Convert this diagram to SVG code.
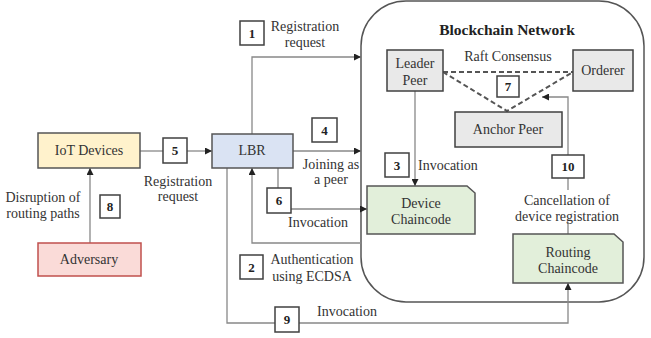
<svg xmlns="http://www.w3.org/2000/svg" width="651" height="338" viewBox="0 0 651 338">
<defs>
<marker id="ah" viewBox="0 0 10 10" refX="10" refY="5" markerWidth="7" markerHeight="7" markerUnits="userSpaceOnUse" orient="auto">
<path d="M0,0 L10,5 L0,10 z" fill="#222"/>
</marker>
<style>
text{font-family:"Liberation Serif","Times New Roman","DejaVu Serif",serif;font-size:14px;fill:#333;}
.c{text-anchor:middle;}
.b{font-weight:bold;}
.num{font-weight:bold;font-size:13px;text-anchor:middle;fill:#222;}
.nb{fill:#fff;stroke:#404040;stroke-width:1.5;}
.ln{fill:none;stroke:#888;stroke-width:1.3;}
.dash{fill:none;stroke:#555;stroke-width:2;stroke-dasharray:5,3;}
.peer{fill:#e9e9e9;stroke:#404040;stroke-width:1.5;}
.cc{fill:#e2efda;stroke:#555;stroke-width:1.5;}
</style>
</defs>
<rect width="651" height="338" fill="#fff"/>

<g id="blockchain">
<rect x="361" y="1" width="283" height="301" rx="45" ry="45" fill="#fff" stroke="#555" stroke-width="1.5"/>
<text class="c b" x="507" y="35" style="font-size:15.5px;fill:#222">Blockchain Network</text>
<text class="c" x="508" y="61">Raft Consensus</text>
</g>

<g id="connectors">
<path class="ln" d="M140,151 H163"/>
<path class="ln" d="M187,151 H212" marker-end="url(#ah)"/>
<path class="ln" d="M90,243 V168" marker-end="url(#ah)"/>
<path class="ln" d="M252,134 V57 H361" marker-end="url(#ah)"/>
<path class="ln" d="M293,151 H361" marker-end="url(#ah)"/>
<path class="ln" d="M278,168 V188"/>
<path class="ln" d="M291,209 H367" marker-end="url(#ah)"/>
<path class="ln" d="M361,243 H252 V168" marker-end="url(#ah)"/>
<path class="ln" d="M227,168 V323 H275"/>
<path class="ln" d="M299,323 H568 V283" marker-end="url(#ah)"/>
<path class="ln" d="M415,91 V186" marker-end="url(#ah)"/>
<path class="ln" d="M568,234 V97 H542" marker-end="url(#ah)"/>
<path class="dash" d="M443,72 H573"/>
<path class="dash" d="M443,72 L507,111 L573,72"/>
</g>

<g id="iot">
<rect x="38" y="133" width="102" height="35" fill="#fff2cc" stroke="#555" stroke-width="1.5"/>
<text class="c" x="89" y="155">IoT Devices</text>
</g>
<g id="adversary">
<rect x="38" y="243" width="103" height="33" fill="#fadbd8" stroke="#c0504d" stroke-width="1.5"/>
<text class="c" x="89" y="264">Adversary</text>
</g>
<g id="lbr">
<rect x="212" y="134" width="81" height="34" fill="#dae3f3" stroke="#555" stroke-width="1.5"/>
<text class="c" x="252" y="155">LBR</text>
</g>
<g id="leader">
<rect class="peer" x="387" y="50" width="56" height="41"/>
<text class="c" x="415" y="68">Leader</text>
<text class="c" x="415" y="85">Peer</text>
</g>
<g id="orderer">
<rect class="peer" x="573" y="50" width="60" height="41"/>
<text class="c" x="603" y="75">Orderer</text>
</g>
<g id="anchor">
<rect class="peer" x="455" y="112" width="107" height="35"/>
<text class="c" x="508" y="134">Anchor Peer</text>
</g>
<g id="device-chaincode">
<path class="cc" d="M367,186 H467 L475,193 V234 H367 Z"/>
<text class="c" x="421" y="208">Device</text>
<text class="c" x="421" y="224">Chaincode</text>
</g>
<g id="routing-chaincode">
<path class="cc" d="M513,234 H614 L623,242 V283 H513 Z"/>
<text class="c" x="568" y="257">Routing</text>
<text class="c" x="568" y="273">Chaincode</text>
</g>

<g id="labels">
<rect class="nb" x="240" y="21" width="24" height="24"/><text class="num" x="252" y="38">1</text>
<text class="c" x="305" y="31">Registration</text>
<text class="c" x="305" y="47">request</text>

<rect class="nb" x="240" y="255" width="23" height="24"/><text class="num" x="251.5" y="272">2</text>
<text class="c" x="312" y="264">Authentication</text>
<text class="c" x="312" y="281">using ECDSA</text>

<rect class="nb" x="385" y="153" width="24" height="24"/><text class="num" x="397" y="170">3</text>
<text x="418" y="170">Invocation</text>

<rect class="nb" x="312" y="118" width="25" height="24"/><text class="num" x="324.5" y="135">4</text>
<text class="c" x="331" y="169">Joining as</text>
<text class="c" x="331" y="184">a peer</text>

<rect class="nb" x="163" y="138" width="24" height="25"/><text class="num" x="175" y="155">5</text>
<text class="c" x="178" y="186">Registration</text>
<text class="c" x="178" y="201">request</text>

<rect class="nb" x="267" y="188" width="24" height="25"/><text class="num" x="279" y="205">6</text>
<text class="c" x="318" y="227">Invocation</text>

<rect class="nb" x="497" y="76" width="22" height="21"/><text class="num" x="508" y="91">7</text>

<rect class="nb" x="100" y="195" width="20" height="23"/><text class="num" x="110" y="211">8</text>
<text class="c" x="43" y="202">Disruption of</text>
<text class="c" x="43" y="218">routing paths</text>

<rect class="nb" x="275" y="307" width="24" height="25"/><text class="num" x="287" y="324">9</text>
<text class="c" x="347" y="316">Invocation</text>

<rect class="nb" x="552" y="155" width="32" height="23"/><text class="num" x="568" y="171">10</text>
<rect x="505" y="190" width="126" height="32" fill="#fff"/>
<text class="c" x="567" y="205">Cancellation of</text>
<text class="c" x="567" y="221">device registration</text>
</g>
</svg>
